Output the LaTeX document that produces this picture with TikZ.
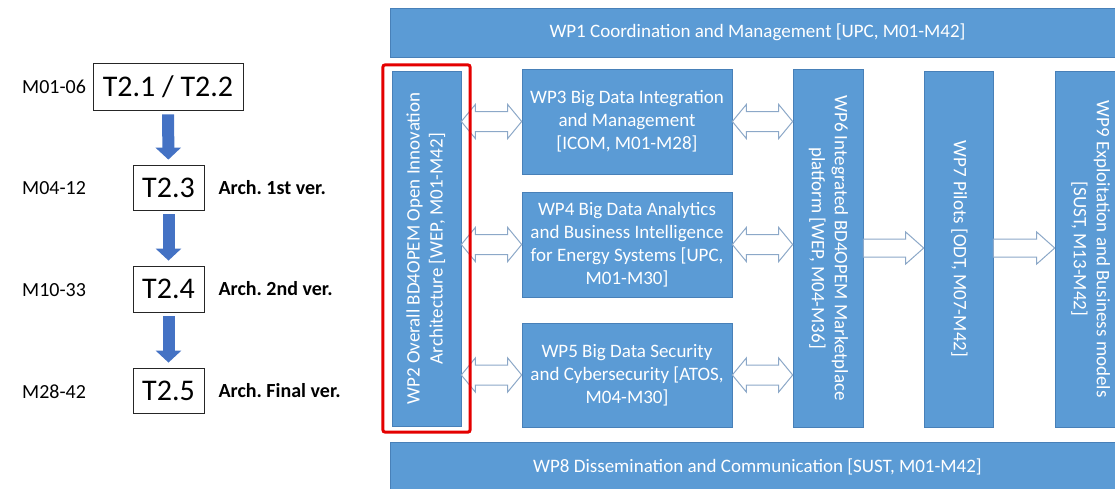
\documentclass[tikz,border=0pt]{standalone}
\usepackage{fontspec}
\setmainfont{Carlito}
\usepackage{graphicx}
\usetikzlibrary{calc,fit,positioning,arrows.meta}
\frenchspacing

\definecolor{wpblue}{RGB}{91,155,213}
\definecolor{wpedge}{RGB}{72,128,184}
\definecolor{taskblue}{RGB}{68,114,196}
\definecolor{hollowedge}{RGB}{140,168,200}
\definecolor{archred}{RGB}{228,0,0}

\newcommand{\wpfont}{\fontsize{19}{23}\selectfont}

\newcommand{\dblarrow}[3]{%
  \draw[hollow] let \p1=(#1.east), \p2=(#2.west), \p3=(#3.center) in
    (\x1,\y3) -- ++(14pt,17pt) -- ++(0,-7pt) -- (\x2-14pt,\y3+10pt)
    -- ++(0,7pt) -- (\x2,\y3) -- ++(-14pt,-17pt) -- ++(0,7pt)
    -- (\x1+14pt,\y3-10pt) -- ++(0,-7pt) -- cycle;}

\newcommand{\sglarrow}[3]{%
  \draw[hollow] let \p1=(#1.east), \p2=(#2.west), \p3=(#3.center) in
    (\x1,\y3+9pt) -- (\x2-18pt,\y3+9pt) -- ++(0,7pt) -- (\x2,\y3)
    -- (\x2-18pt,\y3-16pt) -- ++(0,7pt) -- (\x1,\y3-9pt) -- cycle;}

\begin{document}
\begin{tikzpicture}[x=1pt,y=-1pt,every node/.append style={font=\wpfont,
                    text=white,inner sep=2pt},
    wpbox/.style={draw=wpedge,fill=wpblue,line width=.6pt,align=center},
    taskbox/.style={draw=black!85,line width=.8pt,text=black,inner sep=0pt,
                    font=\fontsize{30}{34}\selectfont},
    monthlbl/.style={text=black,anchor=west,font=\fontsize{20}{24}\selectfont},
    archlbl/.style={text=black,font=\fontsize{20}{24}\selectfont\bfseries},
    hollow/.style={draw=hollowedge,fill=white,line width=1pt},
    taskarrow/.style={taskblue,line width=12pt,
                      -{Triangle[width=25pt,length=12pt]},
                      shorten <=4pt,shorten >=5pt},
    redframe/.style={draw=archred,line width=3pt,rounded corners=2pt}]
    \useasboundingbox (0,0) rectangle (1115,488);
    \clip (0,0) rectangle (1115,488);

    \node[taskbox,minimum width=150,minimum height=47] (t21) at (168,86.5) {T2.1 / T2.2};
    \node[taskbox,minimum width=71,minimum height=45] (t23) at (168.5,187.5) {T2.3};
    \node[taskbox,minimum width=71,minimum height=46] (t24) at (168.5,289) {T2.4};
    \node[taskbox,minimum width=71,minimum height=45] (t25) at (168.5,390.5) {T2.5};
    \node[monthlbl] (m21) at (20,87) {M01-06};
    \node[monthlbl] (m23) at (20,188) {M04-12};
    \node[monthlbl] (m24) at (20,290) {M10-33};
    \node[monthlbl] (m25) at (20,392) {M28-42};
    \node[archlbl,right=12pt of t23] (a23) {Arch. 1st ver.};
    \node[archlbl,right=12pt of t24] (a24) {Arch. 2nd ver.};
    \node[archlbl,right=12pt of t25] (a25) {Arch. Final ver.};
    \draw[taskarrow] (t21) -- (t23);
    \draw[taskarrow] (t23) -- (t24);
    \draw[taskarrow] (t24) -- (t25);

    \node[wpbox,minimum width=735,minimum height=49] (wp1) at (757.5,32.5)
         {WP1 Coordination and Management [UPC, M01-M42]};
    \node[wpbox,minimum width=735,minimum height=50] (wp8) at (757.5,467)
         {WP8 Dissemination and Communication [SUST, M01-M42]};
    \node[wpbox,minimum width=69,minimum height=355] (wp2) at (426.5,248.5)
         {\rotatebox{90}{\begin{tabular}{@{}c@{}}WP2 Overall BD4OPEM Open Innovation\\
          Architecture [WEP, M01-M42]\end{tabular}}};
    \node[wpbox,minimum width=210,minimum height=105] (wp3) at (627,121.5)
         {WP3 Big Data Integration\\and Management\\{}[ICOM, M01-M28]};
    \node[wpbox,minimum width=210,minimum height=105] (wp4) at (627,244.5)
         {WP4 Big Data Analytics\\and Business Intelligence\\for Energy Systems [UPC,\\M01-M30]};
    \node[wpbox,minimum width=210,minimum height=104] (wp5) at (627,375)
         {WP5 Big Data Security\\and Cybersecurity [ATOS,\\M04-M30]};
    \node[wpbox,minimum width=70,minimum height=358] (wp6) at (828,248)
         {\rotatebox{-90}{\begin{tabular}{@{}c@{}}WP6 Integrated BD4OPEM Marketplace\\
          platform [WEP, M04-M36]\end{tabular}}};
    \node[wpbox,minimum width=69,minimum height=356] (wp7) at (958.5,249)
         {\rotatebox{-90}{\begin{tabular}{@{}c@{}}WP7 Pilots [ODT, M07-M42]\\ \end{tabular}}};
    \node[wpbox,minimum width=70,minimum height=356] (wp9) at (1090,249)
         {\rotatebox{-90}{\begin{tabular}{@{}c@{}}WP9 Exploitation and Business models\\
          {}[SUST, M13-M42]\end{tabular}}};

    \foreach \k in {3,4,5} {
      \dblarrow{wp2}{wp\k}{wp\k}
      \dblarrow{wp\k}{wp6}{wp\k}
    }
    \sglarrow{wp6}{wp7}{wp6}
    \sglarrow{wp7}{wp9}{wp6}

    \node[redframe,fit=(wp2),inner xsep=8.75pt,inner ysep=5.75pt] (wp2frame) {};
\end{tikzpicture}
\end{document}
